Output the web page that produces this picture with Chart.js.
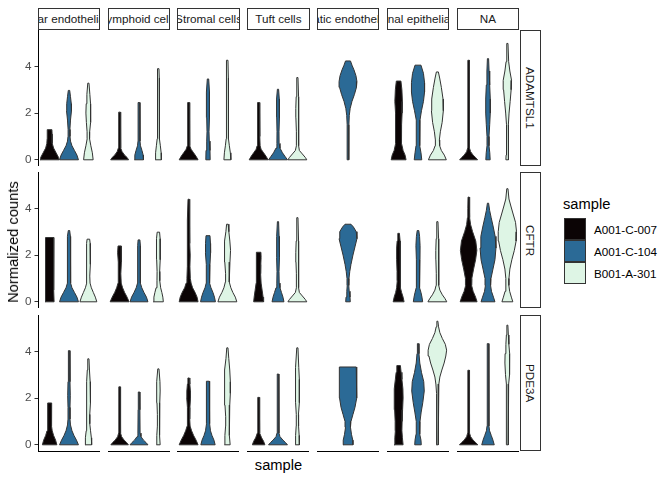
<!DOCTYPE html>
<html>
<head>
<meta charset="utf-8">
<script src="https://cdn.jsdelivr.net/npm/chart.js@4.4.1/dist/chart.umd.min.js"></script>
<style>
  body { margin: 0; background: #fff; font-family: "Liberation Sans", Arial, Helvetica, sans-serif; }
  #wrap { position: relative; width: 672px; height: 480px; overflow: hidden; }
  #wrap canvas, #wrap div { position: absolute; }
  .strip { box-sizing: border-box; border: 1px solid #333; background: #fff; overflow: hidden;
           display: flex; align-items: center; justify-content: center; white-space: nowrap;
           font-size: 11.7px; color: #1a1a1a; }
  .strip.v { writing-mode: vertical-rl; }
  .title { font-size: 14.7px; color: #000; white-space: nowrap; }
  .key { box-sizing: border-box; border: 1px solid #333; }
  .klab { font-size: 11.7px; color: #000; white-space: nowrap; transform: translateY(-50%); }
</style>
</head>
<body>
<div id="wrap"></div>
<script>
// facets and groups
const cellTypes = ['Vascular endothelial cells', 'Lymphoid cells', 'Stromal cells', 'Tuft cells',
                   'Lymphatic endothelial cells', 'Intestinal epithelial cells', 'NA'];
const genes = ['ADAMTSL1', 'CFTR', 'PDE3A'];
const samples = ['A001-C-007', 'A001-C-104', 'B001-A-301'];
const sampleColors = ['#0b0405', '#2b6a96', '#def5e5'];
const yTicks = [0, 2, 4];

// violins: [cell type, sample, [[normalized count, density], ...]]
const violinsADAMTSL1 = [
  [0, 0, [[0,9.5],[0.1,9],[0.3,6.5],[0.5,4],[0.7,2.8],[0.9,2.5],[1.1,2.5],[1.29,2.3]]],
  [0, 1, [[0,9.5],[0.2,8],[0.4,5.5],[0.6,3],[0.8,1.5],[1.0,1],[1.3,0.9],[1.7,1.5],[2.1,2.5],[2.4,2.3],[2.7,1.5],[2.97,0.7]]],
  [0, 2, [[0,4.8],[0.3,4],[0.6,2.5],[0.9,1.2],[1.2,1.3],[1.6,2],[2.0,2.5],[2.4,2.2],[2.8,1.5],[3.28,0.6]]],
  [1, 0, [[0,9],[0.1,7.5],[0.2,5],[0.35,2.5],[0.5,1.3],[0.8,1],[1.5,0.9],[2.04,0.8]]],
  [1, 1, [[0,4.5],[0.2,4.2],[0.4,3],[0.6,1.5],[0.8,1],[1.5,1],[2.2,1],[2.45,0.7]]],
  [1, 2, [[0,3],[0.3,2.8],[0.6,2],[0.9,1.2],[1.5,1],[2.5,1],[3.5,0.9],[3.9,0.6]]],
  [2, 0, [[0,9.5],[0.15,7.5],[0.3,5],[0.45,2.5],[0.6,1.3],[1.0,1],[2.0,1],[2.45,0.8]]],
  [2, 1, [[0,2.2],[0.4,2],[0.8,1.3],[1.2,1],[1.8,1.3],[2.4,1.7],[2.9,1.5],[3.46,0.7]]],
  [2, 2, [[0,3.5],[0.3,3],[0.6,2],[0.9,1.2],[1.5,1],[2.5,1.1],[3.5,1],[4.26,0.6]]],
  [3, 0, [[0,9.5],[0.15,7.5],[0.3,5],[0.45,2.5],[0.6,1.5],[1.0,1.2],[2.0,1.1],[2.45,0.8]]],
  [3, 1, [[0,9.5],[0.15,7],[0.3,4.5],[0.5,2],[0.7,1.1],[1.2,1],[1.8,1.3],[2.2,1.6],[2.6,1.3],[3.02,0.6]]],
  [3, 2, [[0,9.5],[0.1,8],[0.25,5],[0.4,2],[0.6,1],[1.2,1],[1.8,1.5],[2.2,1.6],[2.7,1.2],[3.52,0.6]]],
  [4, 1, [[0,0.8],[0.8,0.8],[1.5,0.9],[1.9,1.3],[2.2,2.2],[2.5,4],[2.8,6.5],[3.1,8.5],[3.35,9],[3.6,8],[3.85,6],[4.05,4],[4.23,2.5]]],
  [5, 0, [[0,7.5],[0.2,6.5],[0.4,4.5],[0.7,3],[1.0,2.8],[1.5,3],[2.0,3.5],[2.5,3.8],[3.0,3.3],[3.37,2.3]]],
  [5, 1, [[0,3.8],[0.3,3],[0.6,2],[0.9,1.6],[1.3,1.6],[1.7,2],[2.1,3.5],[2.5,5.5],[2.9,6.6],[3.3,6.6],[3.7,5.5],[4.05,3]]],
  [5, 2, [[0,9],[0.2,7],[0.4,4],[0.6,2.3],[0.85,2],[1.2,3],[1.6,4.8],[2.1,6],[2.6,5.7],[3.1,4],[3.5,2.3],[3.76,1]]],
  [6, 0, [[0,9],[0.1,7],[0.2,4.5],[0.35,2],[0.5,1],[1.5,0.8],[3,0.8],[4.26,0.7]]],
  [6, 1, [[0,2.2],[0.3,1.8],[0.6,1],[1.0,1],[1.5,1.7],[2.0,2.3],[2.6,2.3],[3.2,1.7],[3.8,1.1],[4.33,0.6]]],
  [6, 2, [[0,1.5],[0.2,1.3],[0.5,0.8],[1.0,0.8],[1.5,1],[2.0,1.7],[2.5,2.8],[3.0,3.8],[3.4,4.2],[3.8,2.5],[4.2,1.3],[4.98,0.6]]]
];

const violinsCFTR = [
  [0, 0, [[0,4.5],[0.5,4.2],[1.0,4],[1.5,4],[2.0,4],[2.5,4.2],[2.75,4.3]]],
  [0, 1, [[0,9.5],[0.2,8],[0.4,5.5],[0.6,3],[0.8,1.6],[1.0,1.2],[1.5,1.3],[2.0,2],[2.5,2],[2.8,1.4],[3.05,0.7]]],
  [0, 2, [[0,8.5],[0.2,7],[0.4,5],[0.6,3],[0.8,1.7],[1.1,1.4],[1.6,1.8],[2.1,2.2],[2.5,1.8],[2.68,1.3]]],
  [1, 0, [[0,9.5],[0.2,7.5],[0.4,5],[0.6,3],[0.8,1.6],[1.2,1.2],[1.7,1.5],[2.1,2],[2.39,1.6]]],
  [1, 1, [[0,9],[0.2,7.5],[0.4,5],[0.6,2.8],[0.8,1.5],[1.2,1.1],[1.7,1.3],[2.1,1.6],[2.4,1.4],[2.65,0.9]]],
  [1, 2, [[0,5],[0.2,4.5],[0.4,3.5],[0.6,2.3],[0.9,1.4],[1.3,1.3],[1.8,1.7],[2.3,2],[2.7,1.8],[2.98,1.2]]],
  [2, 0, [[0,9.5],[0.2,8.5],[0.4,6.5],[0.6,4],[0.8,2.5],[1.0,1.7],[1.5,1.3],[2.0,1.6],[2.5,1.3],[3.5,0.9],[4.39,0.6]]],
  [2, 1, [[0,7.5],[0.2,6.5],[0.4,5],[0.6,3],[0.8,1.8],[1.1,1.4],[1.6,2],[2.1,2.6],[2.5,2.5],[2.83,2]]],
  [2, 2, [[0,9.5],[0.2,8],[0.4,5.5],[0.6,3.5],[0.85,2],[1.2,1.8],[1.7,2.6],[2.2,3.2],[2.6,2.5],[3.0,1.5],[3.32,0.8]]],
  [3, 0, [[0,5],[0.2,4.5],[0.5,3.5],[0.8,2.5],[1.2,2],[1.6,2.2],[1.9,2.5],[2.12,2.3]]],
  [3, 1, [[0,6],[0.2,5],[0.4,3.5],[0.6,2],[0.8,1.2],[1.3,1],[1.9,1.4],[2.3,1.6],[2.8,1.1],[3.43,0.6]]],
  [3, 2, [[0,9.5],[0.1,8],[0.25,5],[0.4,2],[0.6,1],[1.2,1],[1.7,1.4],[2.1,1.6],[2.6,1.2],[3.6,0.6]]],
  [4, 1, [[0,2.3],[0.2,2],[0.45,1.2],[0.7,0.8],[1.0,1],[1.3,1.8],[1.6,3],[2.0,5],[2.35,7],[2.7,9],[3.0,8.3],[3.2,5.5],[3.32,3]]],
  [5, 0, [[0,5.5],[0.2,4.5],[0.4,3],[0.6,2],[0.9,1.4],[1.3,1.6],[1.8,2],[2.3,2],[2.6,1.5],[2.93,0.8]]],
  [5, 1, [[0,4.7],[0.2,4],[0.4,3],[0.6,1.8],[0.85,1.3],[1.3,1.6],[1.8,2],[2.4,2.1],[2.8,1.6],[3.05,0.8]]],
  [5, 2, [[0,9.5],[0.15,7.5],[0.3,5],[0.5,2.5],[0.7,1.3],[1.2,1.1],[1.8,1.5],[2.2,1.6],[2.7,1.2],[3.43,0.6]]],
  [6, 0, [[0,8.5],[0.2,7],[0.45,4.5],[0.7,3],[1.0,3.2],[1.4,5],[1.8,7],[2.2,8.3],[2.6,7.2],[3.0,4],[3.3,2],[3.6,1.2],[4.0,0.8],[4.48,0.6]]],
  [6, 1, [[0,7],[0.2,5.5],[0.45,3.5],[0.7,2.6],[1.0,3],[1.4,5],[1.8,7],[2.3,8],[2.8,7.2],[3.2,5.3],[3.6,3.2],[3.9,1.7],[4.22,0.6]]],
  [6, 2, [[0,5.5],[0.2,4],[0.45,2.3],[0.7,1.5],[1.0,1.6],[1.4,2.5],[1.8,4.5],[2.2,7],[2.6,8.8],[3.0,9.2],[3.4,8.2],[3.8,5.5],[4.1,3.5],[4.4,1.6],[4.84,0.6]]]
];

const violinsPDE3A = [
  [0, 0, [[0,7.3],[0.2,6],[0.4,4],[0.6,2.6],[0.8,2],[1.2,1.8],[1.5,2],[1.79,2]]],
  [0, 1, [[0,9.5],[0.2,7.5],[0.4,5],[0.6,3],[0.85,1.5],[1.1,1],[1.6,1],[2.1,1.3],[2.7,1],[4.03,0.6]]],
  [0, 2, [[0,3.3],[0.3,3],[0.6,2.2],[0.9,1.4],[1.3,1.4],[1.8,2],[2.2,2.2],[2.7,1.8],[3.2,1.1],[3.68,0.6]]],
  [1, 0, [[0,8.8],[0.1,7],[0.2,4.5],[0.35,2],[0.5,1],[1.5,0.9],[2.48,0.7]]],
  [1, 1, [[0,9],[0.1,7],[0.2,4.5],[0.35,2],[0.5,1.1],[1.5,0.9],[2.26,0.7]]],
  [1, 2, [[0,1.8],[0.4,1.6],[0.8,1],[1.3,1],[1.8,1.4],[2.3,1.8],[2.7,1.6],[3.25,0.6]]],
  [2, 0, [[0,9.5],[0.2,7.5],[0.4,5],[0.6,3],[0.8,1.5],[1.1,1.1],[1.6,1.3],[2.0,1.9],[2.3,1.8],[2.6,1.2],[2.86,0.7]]],
  [2, 1, [[0,7.2],[0.2,6],[0.4,4],[0.6,2.5],[0.9,1.5],[1.3,1.4],[1.8,1.7],[2.2,1.9],[2.5,1.7],[2.72,1.3]]],
  [2, 2, [[0,2.8],[0.4,2.5],[0.8,1.8],[1.2,1.7],[1.7,2.4],[2.2,3],[2.7,3],[3.2,2.4],[3.7,1.4],[4.15,0.6]]],
  [3, 0, [[0,6.3],[0.15,5],[0.3,3],[0.5,1.3],[0.8,0.9],[1.5,0.9],[2.03,0.7]]],
  [3, 1, [[0,9.5],[0.1,7.5],[0.2,5],[0.35,2],[0.5,1],[1.5,0.9],[3.03,0.6]]],
  [3, 2, [[0,2],[0.4,1.8],[0.8,1.2],[1.3,1.1],[1.8,1.8],[2.3,2.2],[2.8,2],[3.3,1.4],[4.15,0.6]]],
  [4, 1, [[0,5],[0.2,4.8],[0.45,3.5],[0.75,2.5],[1.0,3],[1.3,5],[1.6,7],[2.0,8.5],[2.5,9],[2.9,8.8],[3.33,8.3]]],
  [5, 0, [[0,4.5],[0.3,3.8],[0.6,3.3],[1.0,3.5],[1.5,4],[2.0,4.5],[2.4,4.3],[2.8,3.3],[3.1,2.5],[3.39,1.8]]],
  [5, 1, [[0,3.3],[0.2,3],[0.45,2],[0.7,1.5],[1.0,2],[1.4,3.2],[1.8,4.8],[2.3,6.3],[2.7,5.8],[3.1,3.5],[3.5,1.8],[3.9,1],[4.33,0.6]]],
  [5, 2, [[0,1],[0.5,0.8],[1.5,0.8],[2.2,0.9],[2.6,1.5],[2.9,2.5],[3.2,4.5],[3.5,6.8],[3.8,8.5],[4.05,9.3],[4.3,8],[4.55,5],[4.8,2.5],[5.05,1.2],[5.29,0.5]]],
  [6, 0, [[0,9.2],[0.1,7],[0.2,4.5],[0.35,2],[0.5,1],[1.5,0.8],[3.19,0.7]]],
  [6, 1, [[0,6.3],[0.2,5],[0.4,3.3],[0.6,1.6],[0.8,1],[2,0.9],[4.33,0.6]]],
  [6, 2, [[0,1],[1.0,0.8],[2.0,0.9],[2.6,1.3],[3.0,1.9],[3.5,2.5],[3.9,2.3],[4.3,1.5],[4.7,1],[5.12,0.5]]]
];

const geneViolins = [violinsADAMTSL1, violinsCFTR, violinsPDE3A];

// layout
const COL_LEFT = 37.7, COL_STEP = 69.85, PANEL_W = 62;
const ROW_TOP = 29.5, ROW_STEP = 142.9, PANEL_H = 136;
const DENSITY_TO_X = 1 / 19.5;   // density units -> half-width on the sample axis
const X_RANGE = [0.4, 3.6], Y_RANGE = [-0.265, 5.555];

const wrap = document.getElementById('wrap');

function addDiv(cls, text, css) {
  const d = document.createElement('div');
  d.className = cls;
  if (text) d.textContent = text;
  Object.assign(d.style, css);
  wrap.appendChild(d);
  return d;
}

// closed outline: left side bottom->top, right side top->bottom
function violinOutline(pos, knots) {
  const left = knots.map(([y, d]) => ({ x: pos - d * DENSITY_TO_X, y }));
  const right = knots.slice().reverse().map(([y, d]) => ({ x: pos + d * DENSITY_TO_X, y }));
  const pts = left.concat(right);
  pts.push(pts[0]);
  return pts;
}

genes.forEach((gene, r) => {
  cellTypes.forEach((ct, c) => {
    const firstCol = c === 0, lastRow = r === genes.length - 1;
    const canvas = document.createElement('canvas');
    const w = firstCol ? 38 + PANEL_W : PANEL_W;
    const h = PANEL_H + (lastRow ? 2 : 0);
    canvas.width = w; canvas.height = h;
    Object.assign(canvas.style, {
      left: (firstCol ? 0 : COL_LEFT + COL_STEP * c) + 'px',
      top: (ROW_TOP + ROW_STEP * r) + 'px',
      width: w + 'px', height: h + 'px'
    });
    wrap.appendChild(canvas);

    const datasets = geneViolins[r].filter(v => v[0] === c).map(([, s, knots]) => ({
      label: samples[s],
      data: violinOutline(s + 1, knots),
      showLine: true,
      fill: 'shape',
      backgroundColor: sampleColors[s],
      borderColor: '#333333',
      borderWidth: 1,
      pointRadius: 0,
      tension: 0
    }));

    const xAxis = {
      type: 'linear', min: X_RANGE[0], max: X_RANGE[1],
      display: lastRow,
      ticks: { display: false },
      grid: { display: false },
      border: { display: true, color: '#000', width: 1 }
    };
    if (lastRow) xAxis.afterFit = s => { s.height = 2; s.paddingLeft = 0; s.paddingRight = 0; };

    const yAxis = {
      type: 'linear', min: Y_RANGE[0], max: Y_RANGE[1],
      display: firstCol,
      afterBuildTicks: s => { s.ticks = yTicks.map(v => ({ value: v })); },
      ticks: { color: '#4d4d4d', padding: 3, font: { family: 'Liberation Sans', size: 11.7 } },
      grid: { display: true, drawOnChartArea: false, drawTicks: true, tickLength: 3.5, color: '#333333' },
      border: { display: true, color: '#000', width: 1 }
    };
    if (firstCol) yAxis.afterFit = s => { s.width = 38; s.paddingTop = 0; s.paddingBottom = 0; };

    new Chart(canvas, {
      type: 'scatter',
      data: { datasets },
      options: {
        responsive: false,
        animation: false,
        events: [],
        layout: { padding: 0 },
        plugins: { legend: { display: false }, tooltip: { enabled: false } },
        scales: { x: xAxis, y: yAxis }
      }
    });
  });
});

// facet strips
cellTypes.forEach((ct, c) => {
  addDiv('strip', ct, { left: (COL_LEFT + COL_STEP * c) + 'px', top: '7.5px', width: (PANEL_W + 0.3) + 'px', height: '22px' });
});
genes.forEach((g, r) => {
  addDiv('strip v', g, { left: '520px', top: (ROW_TOP + ROW_STEP * r) + 'px', width: '21px', height: PANEL_H + 'px' });
});

// axis titles
addDiv('title', 'Normalized counts', { left: '13px', top: '241.5px', transform: 'translate(-50%,-50%) rotate(-90deg)' });
addDiv('title', 'sample', { left: '278.5px', top: '465px', transform: 'translate(-50%,-50%)' });

// legend
addDiv('title', 'sample', { left: '563px', top: '204px', transform: 'translateY(-50%)' });
samples.forEach((s, i) => {
  const top = 218.3 + 21.8 * i;
  addDiv('key', '', { left: '564px', top: top + 'px', width: '21.7px', height: '21.8px', background: sampleColors[i] });
  addDiv('klab', s, { left: '594px', top: (top + 10.9) + 'px' });
});
</script>
</body>
</html>
